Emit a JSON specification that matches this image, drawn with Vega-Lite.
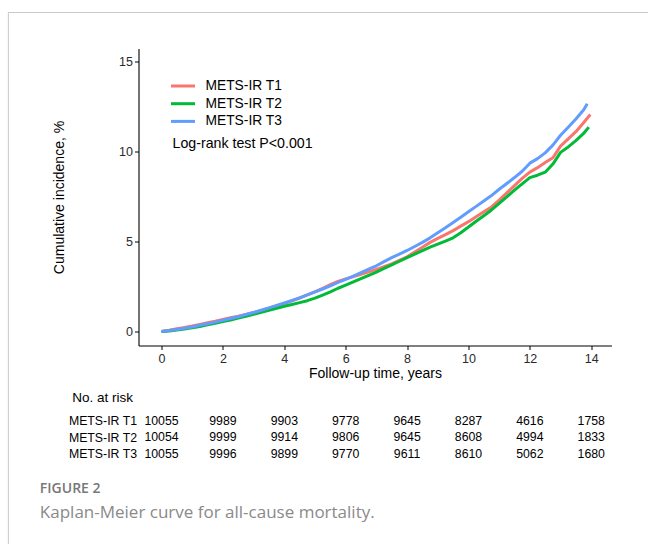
{
  "$schema": "https://vega.github.io/schema/vega-lite/v6.json",
  "background": "white",
  "padding": {"left": 7.5, "top": 11.5, "right": 0, "bottom": 0},
  "config": {
    "view": {"stroke": null},
    "font": "Liberation Sans",
    "axis": {"grid": false, "domainColor": "black", "domainWidth": 1.1, "tickColor": "black", "tickSize": 4, "labelFontSize": 12.5, "labelColor": "#2a2a2a", "titleFontSize": 14, "titleFontWeight": "normal", "titleColor": "black", "labelPadding": 2}
  },
  "datasets": {
    "curves": [
      {"group": "METS-IR T1", "t": 0, "p": 0}, {"group": "METS-IR T1", "t": 0.25, "p": 0.07}, {"group": "METS-IR T1", "t": 0.5, "p": 0.15}, {"group": "METS-IR T1", "t": 0.75, "p": 0.22},
      {"group": "METS-IR T1", "t": 1, "p": 0.3}, {"group": "METS-IR T1", "t": 1.25, "p": 0.39}, {"group": "METS-IR T1", "t": 1.5, "p": 0.48}, {"group": "METS-IR T1", "t": 1.75, "p": 0.57},
      {"group": "METS-IR T1", "t": 2, "p": 0.67}, {"group": "METS-IR T1", "t": 2.25, "p": 0.76}, {"group": "METS-IR T1", "t": 2.5, "p": 0.85}, {"group": "METS-IR T1", "t": 2.75, "p": 0.95},
      {"group": "METS-IR T1", "t": 3, "p": 1.05}, {"group": "METS-IR T1", "t": 3.25, "p": 1.17}, {"group": "METS-IR T1", "t": 3.5, "p": 1.29}, {"group": "METS-IR T1", "t": 3.75, "p": 1.42},
      {"group": "METS-IR T1", "t": 4, "p": 1.55}, {"group": "METS-IR T1", "t": 4.25, "p": 1.7}, {"group": "METS-IR T1", "t": 4.5, "p": 1.86}, {"group": "METS-IR T1", "t": 4.75, "p": 2.03},
      {"group": "METS-IR T1", "t": 5, "p": 2.2}, {"group": "METS-IR T1", "t": 5.25, "p": 2.4}, {"group": "METS-IR T1", "t": 5.5, "p": 2.6}, {"group": "METS-IR T1", "t": 5.75, "p": 2.78},
      {"group": "METS-IR T1", "t": 6, "p": 2.92}, {"group": "METS-IR T1", "t": 6.25, "p": 3.05}, {"group": "METS-IR T1", "t": 6.5, "p": 3.18}, {"group": "METS-IR T1", "t": 6.75, "p": 3.31},
      {"group": "METS-IR T1", "t": 7, "p": 3.45}, {"group": "METS-IR T1", "t": 7.25, "p": 3.6}, {"group": "METS-IR T1", "t": 7.5, "p": 3.75}, {"group": "METS-IR T1", "t": 7.75, "p": 3.95},
      {"group": "METS-IR T1", "t": 8, "p": 4.15}, {"group": "METS-IR T1", "t": 8.25, "p": 4.42}, {"group": "METS-IR T1", "t": 8.5, "p": 4.68}, {"group": "METS-IR T1", "t": 8.75, "p": 4.95},
      {"group": "METS-IR T1", "t": 9, "p": 5.17}, {"group": "METS-IR T1", "t": 9.25, "p": 5.38}, {"group": "METS-IR T1", "t": 9.5, "p": 5.6}, {"group": "METS-IR T1", "t": 9.75, "p": 5.85},
      {"group": "METS-IR T1", "t": 10, "p": 6.1}, {"group": "METS-IR T1", "t": 10.25, "p": 6.37}, {"group": "METS-IR T1", "t": 10.5, "p": 6.65}, {"group": "METS-IR T1", "t": 10.75, "p": 6.92},
      {"group": "METS-IR T1", "t": 11, "p": 7.3}, {"group": "METS-IR T1", "t": 11.25, "p": 7.7}, {"group": "METS-IR T1", "t": 11.5, "p": 8.1}, {"group": "METS-IR T1", "t": 11.75, "p": 8.5},
      {"group": "METS-IR T1", "t": 12, "p": 8.85}, {"group": "METS-IR T1", "t": 12.25, "p": 9.1}, {"group": "METS-IR T1", "t": 12.5, "p": 9.38}, {"group": "METS-IR T1", "t": 12.75, "p": 9.65},
      {"group": "METS-IR T1", "t": 13, "p": 10.3}, {"group": "METS-IR T1", "t": 13.25, "p": 10.7}, {"group": "METS-IR T1", "t": 13.5, "p": 11.1}, {"group": "METS-IR T1", "t": 13.75, "p": 11.6},
      {"group": "METS-IR T1", "t": 13.97, "p": 12.05},
      {"group": "METS-IR T2", "t": 0, "p": 0}, {"group": "METS-IR T2", "t": 0.25, "p": 0.03}, {"group": "METS-IR T2", "t": 0.5, "p": 0.08}, {"group": "METS-IR T2", "t": 0.75, "p": 0.14},
      {"group": "METS-IR T2", "t": 1, "p": 0.2}, {"group": "METS-IR T2", "t": 1.25, "p": 0.28}, {"group": "METS-IR T2", "t": 1.5, "p": 0.37}, {"group": "METS-IR T2", "t": 1.75, "p": 0.46},
      {"group": "METS-IR T2", "t": 2, "p": 0.55}, {"group": "METS-IR T2", "t": 2.25, "p": 0.64}, {"group": "METS-IR T2", "t": 2.5, "p": 0.74}, {"group": "METS-IR T2", "t": 2.75, "p": 0.84},
      {"group": "METS-IR T2", "t": 3, "p": 0.95}, {"group": "METS-IR T2", "t": 3.25, "p": 1.06}, {"group": "METS-IR T2", "t": 3.5, "p": 1.17}, {"group": "METS-IR T2", "t": 3.75, "p": 1.28},
      {"group": "METS-IR T2", "t": 4, "p": 1.4}, {"group": "METS-IR T2", "t": 4.25, "p": 1.5}, {"group": "METS-IR T2", "t": 4.5, "p": 1.6}, {"group": "METS-IR T2", "t": 4.75, "p": 1.71},
      {"group": "METS-IR T2", "t": 5, "p": 1.85}, {"group": "METS-IR T2", "t": 5.25, "p": 2.02}, {"group": "METS-IR T2", "t": 5.5, "p": 2.2}, {"group": "METS-IR T2", "t": 5.75, "p": 2.4},
      {"group": "METS-IR T2", "t": 6, "p": 2.57}, {"group": "METS-IR T2", "t": 6.25, "p": 2.75}, {"group": "METS-IR T2", "t": 6.5, "p": 2.93}, {"group": "METS-IR T2", "t": 6.75, "p": 3.12},
      {"group": "METS-IR T2", "t": 7, "p": 3.3}, {"group": "METS-IR T2", "t": 7.25, "p": 3.5}, {"group": "METS-IR T2", "t": 7.5, "p": 3.7}, {"group": "METS-IR T2", "t": 7.75, "p": 3.9},
      {"group": "METS-IR T2", "t": 8, "p": 4.1}, {"group": "METS-IR T2", "t": 8.25, "p": 4.3}, {"group": "METS-IR T2", "t": 8.5, "p": 4.49}, {"group": "METS-IR T2", "t": 8.75, "p": 4.68},
      {"group": "METS-IR T2", "t": 9, "p": 4.85}, {"group": "METS-IR T2", "t": 9.25, "p": 5.02}, {"group": "METS-IR T2", "t": 9.5, "p": 5.2}, {"group": "METS-IR T2", "t": 9.75, "p": 5.48},
      {"group": "METS-IR T2", "t": 10, "p": 5.8}, {"group": "METS-IR T2", "t": 10.25, "p": 6.12}, {"group": "METS-IR T2", "t": 10.5, "p": 6.43}, {"group": "METS-IR T2", "t": 10.75, "p": 6.75},
      {"group": "METS-IR T2", "t": 11, "p": 7.12}, {"group": "METS-IR T2", "t": 11.25, "p": 7.48}, {"group": "METS-IR T2", "t": 11.5, "p": 7.85}, {"group": "METS-IR T2", "t": 11.75, "p": 8.2},
      {"group": "METS-IR T2", "t": 12, "p": 8.55}, {"group": "METS-IR T2", "t": 12.25, "p": 8.68}, {"group": "METS-IR T2", "t": 12.5, "p": 8.85}, {"group": "METS-IR T2", "t": 12.75, "p": 9.3},
      {"group": "METS-IR T2", "t": 13, "p": 9.95}, {"group": "METS-IR T2", "t": 13.25, "p": 10.25}, {"group": "METS-IR T2", "t": 13.5, "p": 10.6}, {"group": "METS-IR T2", "t": 13.75, "p": 11.0},
      {"group": "METS-IR T2", "t": 13.92, "p": 11.35},
      {"group": "METS-IR T3", "t": 0, "p": 0}, {"group": "METS-IR T3", "t": 0.25, "p": 0.05}, {"group": "METS-IR T3", "t": 0.5, "p": 0.11}, {"group": "METS-IR T3", "t": 0.75, "p": 0.18},
      {"group": "METS-IR T3", "t": 1, "p": 0.25}, {"group": "METS-IR T3", "t": 1.25, "p": 0.34}, {"group": "METS-IR T3", "t": 1.5, "p": 0.43}, {"group": "METS-IR T3", "t": 1.75, "p": 0.52},
      {"group": "METS-IR T3", "t": 2, "p": 0.62}, {"group": "METS-IR T3", "t": 2.25, "p": 0.72}, {"group": "METS-IR T3", "t": 2.5, "p": 0.82}, {"group": "METS-IR T3", "t": 2.75, "p": 0.94},
      {"group": "METS-IR T3", "t": 3, "p": 1.05}, {"group": "METS-IR T3", "t": 3.25, "p": 1.18}, {"group": "METS-IR T3", "t": 3.5, "p": 1.31}, {"group": "METS-IR T3", "t": 3.75, "p": 1.45},
      {"group": "METS-IR T3", "t": 4, "p": 1.58}, {"group": "METS-IR T3", "t": 4.25, "p": 1.72}, {"group": "METS-IR T3", "t": 4.5, "p": 1.87}, {"group": "METS-IR T3", "t": 4.75, "p": 2.03},
      {"group": "METS-IR T3", "t": 5, "p": 2.2}, {"group": "METS-IR T3", "t": 5.25, "p": 2.36}, {"group": "METS-IR T3", "t": 5.5, "p": 2.53}, {"group": "METS-IR T3", "t": 5.75, "p": 2.72},
      {"group": "METS-IR T3", "t": 6, "p": 2.9}, {"group": "METS-IR T3", "t": 6.25, "p": 3.08}, {"group": "METS-IR T3", "t": 6.5, "p": 3.27}, {"group": "METS-IR T3", "t": 6.75, "p": 3.46},
      {"group": "METS-IR T3", "t": 7, "p": 3.65}, {"group": "METS-IR T3", "t": 7.25, "p": 3.88}, {"group": "METS-IR T3", "t": 7.5, "p": 4.1}, {"group": "METS-IR T3", "t": 7.75, "p": 4.3},
      {"group": "METS-IR T3", "t": 8, "p": 4.5}, {"group": "METS-IR T3", "t": 8.25, "p": 4.72}, {"group": "METS-IR T3", "t": 8.5, "p": 4.95}, {"group": "METS-IR T3", "t": 8.75, "p": 5.2},
      {"group": "METS-IR T3", "t": 9, "p": 5.48}, {"group": "METS-IR T3", "t": 9.25, "p": 5.76}, {"group": "METS-IR T3", "t": 9.5, "p": 6.05}, {"group": "METS-IR T3", "t": 9.75, "p": 6.35},
      {"group": "METS-IR T3", "t": 10, "p": 6.65}, {"group": "METS-IR T3", "t": 10.25, "p": 6.95}, {"group": "METS-IR T3", "t": 10.5, "p": 7.25}, {"group": "METS-IR T3", "t": 10.75, "p": 7.55},
      {"group": "METS-IR T3", "t": 11, "p": 7.9}, {"group": "METS-IR T3", "t": 11.25, "p": 8.22}, {"group": "METS-IR T3", "t": 11.5, "p": 8.55}, {"group": "METS-IR T3", "t": 11.75, "p": 8.9},
      {"group": "METS-IR T3", "t": 12, "p": 9.35}, {"group": "METS-IR T3", "t": 12.25, "p": 9.6}, {"group": "METS-IR T3", "t": 12.5, "p": 9.92}, {"group": "METS-IR T3", "t": 12.75, "p": 10.35},
      {"group": "METS-IR T3", "t": 13, "p": 10.9}, {"group": "METS-IR T3", "t": 13.25, "p": 11.35}, {"group": "METS-IR T3", "t": 13.5, "p": 11.8}, {"group": "METS-IR T3", "t": 13.75, "p": 12.3},
      {"group": "METS-IR T3", "t": 13.87, "p": 12.65}
    ],
    "risk": [
      {"group": "METS-IR T1", "t": 0, "n": 10055}, {"group": "METS-IR T1", "t": 2, "n": 9989}, {"group": "METS-IR T1", "t": 4, "n": 9903}, {"group": "METS-IR T1", "t": 6, "n": 9778},
      {"group": "METS-IR T1", "t": 8, "n": 9645}, {"group": "METS-IR T1", "t": 10, "n": 8287}, {"group": "METS-IR T1", "t": 12, "n": 4616}, {"group": "METS-IR T1", "t": 14, "n": 1758},
      {"group": "METS-IR T2", "t": 0, "n": 10054}, {"group": "METS-IR T2", "t": 2, "n": 9999}, {"group": "METS-IR T2", "t": 4, "n": 9914}, {"group": "METS-IR T2", "t": 6, "n": 9806},
      {"group": "METS-IR T2", "t": 8, "n": 9645}, {"group": "METS-IR T2", "t": 10, "n": 8608}, {"group": "METS-IR T2", "t": 12, "n": 4994}, {"group": "METS-IR T2", "t": 14, "n": 1833},
      {"group": "METS-IR T3", "t": 0, "n": 10055}, {"group": "METS-IR T3", "t": 2, "n": 9996}, {"group": "METS-IR T3", "t": 4, "n": 9899}, {"group": "METS-IR T3", "t": 6, "n": 9770},
      {"group": "METS-IR T3", "t": 8, "n": 9611}, {"group": "METS-IR T3", "t": 10, "n": 8610}, {"group": "METS-IR T3", "t": 12, "n": 5062}, {"group": "METS-IR T3", "t": 14, "n": 1680}
    ]
  },
  "title": {
    "text": "FIGURE 2",
    "subtitle": "Kaplan-Meier curve for all-cause mortality.",
    "orient": "bottom",
    "anchor": "start",
    "offset": -66,
    "dx": 32,
    "font": "Open Sans",
    "fontSize": 14,
    "fontWeight": 600,
    "color": "#777777",
    "subtitleFont": "Open Sans",
    "subtitleFontSize": 17,
    "subtitleColor": "#8a8a8a",
    "subtitlePadding": 9
  },
  "bounds": "flush",
  "spacing": 75,
  "vconcat": [
    {
      "width": 473,
      "height": 297,
      "layer": [
        {
          "data": {"name": "curves"},
          "mark": {"type": "line", "strokeWidth": 3, "strokeJoin": "round"},
          "encoding": {
            "x": {"field": "t", "type": "quantitative", "scale": {"domain": [-0.75, 14.66], "nice": false, "zero": false},
                  "axis": {"values": [0, 2, 4, 6, 8, 10, 12, 14], "title": "Follow-up time, years", "titlePadding": 1, "labelPadding": 3}},
            "y": {"field": "p", "type": "quantitative", "scale": {"domain": [-0.78, 15.72], "nice": false, "zero": false},
                  "axis": {"values": [0, 5, 10, 15], "title": "Cumulative incidence, %", "titlePadding": 52}},
            "color": {"field": "group", "type": "nominal",
                      "scale": {"domain": ["METS-IR T1", "METS-IR T2", "METS-IR T3"], "range": ["#F8766D", "#00BA38", "#619CFF"]},
                      "legend": {"orient": "none", "legendX": 37, "legendY": 30, "title": null, "symbolType": "M-2,0H2", "symbolSize": 144, "symbolStrokeWidth": 3, "labelFontSize": 13.8, "labelColor": "black", "rowPadding": 2.7, "labelOffset": 15, "padding": 0}}
          }
        },
        {
          "data": {"values": [{}]},
          "mark": {"type": "text", "align": "left", "baseline": "middle", "fontSize": 14.2, "color": "black", "text": "Log-rank test P<0.001"},
          "encoding": {"x": {"datum": 0.36}, "y": {"datum": 10.4}}
        },
        {
          "data": {"values": [{}]},
          "mark": {"type": "rule", "color": "#c8c8c8", "strokeWidth": 1, "clip": false},
          "encoding": {"x": {"datum": -4.99}, "x2": {"datum": 16}, "y": {"datum": 17.72}}
        },
        {
          "data": {"values": [{}]},
          "mark": {"type": "rule", "color": "#c8c8c8", "strokeWidth": 1, "clip": false},
          "encoding": {"x": {"datum": -4.99}, "y": {"datum": 17.72}, "y2": {"datum": -12}}
        }
      ]
    },
    {
      "width": 473,
      "height": 33,
      "data": {"name": "risk"},
      "title": {"text": "No. at risk", "anchor": "start", "fontSize": 13.5, "fontWeight": "normal", "color": "black", "dx": 4, "offset": 10},
      "mark": {"type": "text", "fontSize": 12.3, "color": "black", "baseline": "middle"},
      "encoding": {
        "x": {"field": "t", "type": "quantitative", "scale": {"domain": [-0.75, 14.66], "nice": false, "zero": false}, "axis": null},
        "y": {"field": "group", "type": "ordinal", "scale": {"type": "point", "padding": 0, "domain": ["METS-IR T1", "METS-IR T2", "METS-IR T3"]},
              "axis": {"title": null, "ticks": false, "domain": false, "labelPadding": 2, "labelFontSize": 12.3, "labelColor": "black"}},
        "text": {"field": "n", "type": "quantitative", "format": "d"}
      }
    }
  ]
}
